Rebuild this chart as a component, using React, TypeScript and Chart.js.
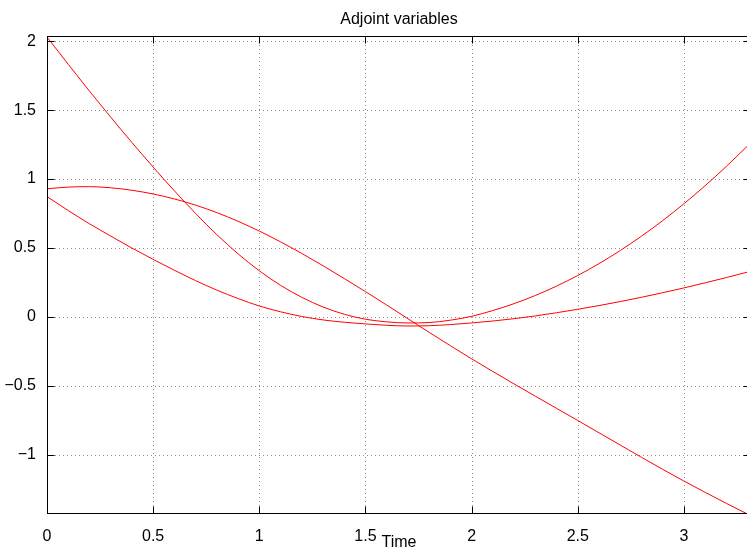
import { useEffect, useRef } from "react";
import { Chart, registerables } from "chart.js";

Chart.register(...registerables);

// Sample times (s)
const time = [
  0, 0.1, 0.2, 0.3, 0.4, 0.5, 0.6, 0.7, 0.8, 0.9, 1.0, 1.1, 1.2, 1.3, 1.4, 1.5, 1.6,
  1.7, 1.8, 1.9, 2.0, 2.1, 2.2, 2.3, 2.4, 2.5, 2.6, 2.7, 2.8, 2.9, 3.0, 3.1, 3.2, 3.3,
];

// Costate trajectories
const adjoint1 = [
  2.03, 1.832, 1.638, 1.449, 1.265, 1.087, 0.915, 0.751, 0.597, 0.458, 0.335, 0.23,
  0.143, 0.073, 0.02, -0.016, -0.035, -0.043, -0.04, -0.023, 0.005, 0.047, 0.097, 0.156,
  0.224, 0.301, 0.387, 0.482, 0.586, 0.699, 0.821, 0.952, 1.092, 1.241,
];
const adjoint2 = [
  0.93, 0.942, 0.945, 0.937, 0.919, 0.892, 0.856, 0.811, 0.757, 0.694, 0.623, 0.545,
  0.461, 0.372, 0.279, 0.184, 0.087, -0.012, -0.111, -0.208, -0.303, -0.395, -0.485,
  -0.574, -0.662, -0.75, -0.839, -0.928, -1.017, -1.104, -1.189, -1.271, -1.351, -1.429,
];
const adjoint3 = [
  0.873, 0.772, 0.676, 0.587, 0.5, 0.418, 0.339, 0.264, 0.195, 0.134, 0.08, 0.038, 0.004,
  -0.021, -0.038, -0.05, -0.06, -0.065, -0.063, -0.055, -0.043, -0.029, -0.012, 0.008,
  0.031, 0.056, 0.083, 0.112, 0.143, 0.176, 0.211, 0.248, 0.286, 0.326,
];

const xTicks = [0, 0.5, 1, 1.5, 2, 2.5, 3];
const yTicks = [-1, -0.5, 0, 0.5, 1, 1.5, 2];
const xRange = [0, 3.316];
const yRange = [-1.428, 2.03];

const titleText = "Adjoint variables";
const xLabelText = "Time";

const FONT = '"Liberation Sans", Arial, Helvetica, sans-serif';
const FONT_SIZE = 16;
const TICK_LEN = 7;

const fmt = (v: number) => String(v).replace("-", "\u2212");

// Dotted grid under the curves, boxed axes with inward ticks on top.
const axesPlugin = {
  id: "boxedAxes",
  beforeDatasetsDraw(chart: any) {
    const { ctx, chartArea: a, scales } = chart;
    ctx.save();
    ctx.strokeStyle = "#8c8c8c";
    ctx.lineWidth = 1;
    ctx.setLineDash([1, 3]);
    for (const v of xTicks) {
      const px = Math.round(scales.x.getPixelForValue(v)) + 0.5;
      ctx.beginPath();
      ctx.moveTo(px, a.top);
      ctx.lineTo(px, a.bottom);
      ctx.stroke();
    }
    for (const v of yTicks) {
      const py = Math.round(scales.y.getPixelForValue(v)) + 0.5;
      ctx.beginPath();
      ctx.moveTo(a.left, py);
      ctx.lineTo(a.right, py);
      ctx.stroke();
    }
    ctx.restore();
  },
  afterDatasetsDraw(chart: any) {
    const { ctx, chartArea: a, scales } = chart;
    const left = Math.round(a.left) + 0.5;
    const right = Math.round(a.right) - 0.5;
    const top = Math.round(a.top) - 0.5;
    const bottom = Math.round(a.bottom) - 0.5;
    ctx.save();
    ctx.strokeStyle = "#000";
    ctx.lineWidth = 1;
    ctx.setLineDash([]);
    ctx.strokeRect(left, top, right - left, bottom - top);
    ctx.beginPath();
    for (const v of xTicks) {
      const px = Math.round(scales.x.getPixelForValue(v)) + 0.5;
      ctx.moveTo(px, bottom);
      ctx.lineTo(px, bottom - TICK_LEN);
      ctx.moveTo(px, top);
      ctx.lineTo(px, top + TICK_LEN);
    }
    for (const v of yTicks) {
      const py = Math.round(scales.y.getPixelForValue(v)) + 0.5;
      ctx.moveTo(left, py);
      ctx.lineTo(left + TICK_LEN, py);
      ctx.moveTo(right, py);
      ctx.lineTo(right - TICK_LEN, py);
    }
    ctx.stroke();

    const cx = (a.left + a.right) / 2;
    ctx.fillStyle = "#000";
    ctx.font = `${FONT_SIZE}px ${FONT}`;
    ctx.textAlign = "center";
    ctx.textBaseline = "alphabetic";
    ctx.fillText(titleText, cx, 24);
    ctx.fillText(xLabelText, cx, 547);
    ctx.restore();
  },
};

export default function App() {
  const canvasRef = useRef<HTMLCanvasElement | null>(null);

  useEffect(() => {
    if (!canvasRef.current) return;
    const series = [adjoint1, adjoint2, adjoint3];
    const chart = new Chart(canvasRef.current, {
      type: "line",
      data: {
        datasets: series.map((values, k) => ({
          label: `p${k + 1}`,
          data: time.map((t, i) => ({ x: t, y: values[i] })),
          borderColor: "#ff0000",
          borderWidth: 1,
          pointRadius: 0,
          fill: false,
          cubicInterpolationMode: "monotone" as const,
        })),
      },
      options: {
        responsive: false,
        animation: false,
        devicePixelRatio: 1,
        layout: { padding: { top: 37, right: 5, left: 0, bottom: 0 } },
        plugins: {
          legend: { display: false },
          title: { display: false },
          tooltip: { enabled: false },
        },
        scales: {
          x: {
            type: "linear",
            min: xRange[0],
            max: xRange[1],
            grid: { display: false },
            border: { display: false },
            afterBuildTicks: (axis: any) => {
              axis.ticks = xTicks.map((value) => ({ value }));
            },
            afterFit: (axis: any) => {
              axis.height = 39;
            },
            ticks: {
              callback: (v: any) => fmt(Number(v)),
              color: "#000",
              font: { family: FONT, size: FONT_SIZE },
              padding: 5,
              maxRotation: 0,
              autoSkip: false,
            },
          },
          y: {
            type: "linear",
            min: yRange[0],
            max: yRange[1],
            grid: { display: false },
            border: { display: false },
            afterBuildTicks: (axis: any) => {
              axis.ticks = yTicks.map((value) => ({ value }));
            },
            afterFit: (axis: any) => {
              axis.width = 47;
            },
            ticks: {
              callback: (v: any) => fmt(Number(v)),
              color: "#000",
              font: { family: FONT, size: FONT_SIZE },
              padding: 3,
              autoSkip: false,
            },
          },
        },
      },
      plugins: [axesPlugin],
    });
    return () => chart.destroy();
  }, []);

  return (
    <div
      style={{
        position: "absolute",
        left: 0,
        top: 0,
        width: 747,
        height: 553,
        overflow: "hidden",
        background: "#fff",
      }}
    >
      <canvas ref={canvasRef} width={756} height={553} style={{ display: "block" }} />
    </div>
  );
}
